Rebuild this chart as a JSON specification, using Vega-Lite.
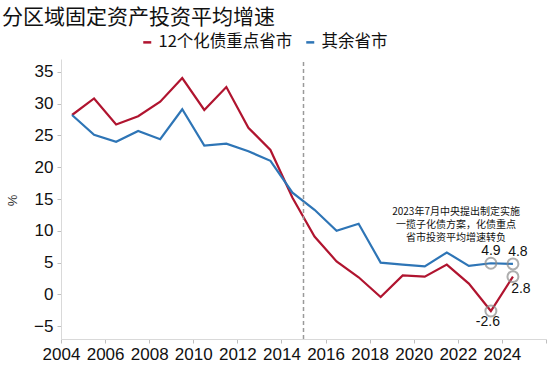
{
  "$schema": "https://vega.github.io/schema/vega-lite/v6.json",
  "width": 485,
  "height": 280,
  "autosize": {"type": "none"},
  "padding": {"left": 61, "top": 59, "right": 4, "bottom": 27},
  "background": "white",
  "config": {
    "view": {"stroke": null},
    "font": "Liberation Sans",
    "axis": {"labelOverlap": false, "labelFlush": false, "grid": false},
    "axisY": {"labelOverlap": false}
  },
  "title": {
    "text": "分区域固定资产投资平均增速",
    "font": "Noto Sans CJK SC",
    "fontSize": 21,
    "fontWeight": "normal",
    "color": "#111111",
    "anchor": "start",
    "frame": "group",
    "dx": -59,
    "offset": 6
  },
  "datasets": {
    "series": [
      {"year": 2004.5, "group": "12个化债重点省市", "value": 28.2},
      {"year": 2005.5, "group": "12个化债重点省市", "value": 30.8},
      {"year": 2006.5, "group": "12个化债重点省市", "value": 26.7},
      {"year": 2007.5, "group": "12个化债重点省市", "value": 28.0},
      {"year": 2008.5, "group": "12个化债重点省市", "value": 30.3},
      {"year": 2009.5, "group": "12个化债重点省市", "value": 34.0},
      {"year": 2010.5, "group": "12个化债重点省市", "value": 29.0},
      {"year": 2011.5, "group": "12个化债重点省市", "value": 32.6},
      {"year": 2012.5, "group": "12个化债重点省市", "value": 26.2},
      {"year": 2013.5, "group": "12个化债重点省市", "value": 22.7},
      {"year": 2014.5, "group": "12个化债重点省市", "value": 15.2},
      {"year": 2015.5, "group": "12个化债重点省市", "value": 9.1},
      {"year": 2016.5, "group": "12个化债重点省市", "value": 5.2},
      {"year": 2017.5, "group": "12个化债重点省市", "value": 2.7},
      {"year": 2018.5, "group": "12个化债重点省市", "value": -0.4},
      {"year": 2019.5, "group": "12个化债重点省市", "value": 3.0},
      {"year": 2020.5, "group": "12个化债重点省市", "value": 2.8},
      {"year": 2021.5, "group": "12个化债重点省市", "value": 4.7},
      {"year": 2022.5, "group": "12个化债重点省市", "value": 1.7},
      {"year": 2023.5, "group": "12个化债重点省市", "value": -2.6},
      {"year": 2024.5, "group": "12个化债重点省市", "value": 2.8},
      {"year": 2004.5, "group": "其余省市", "value": 28.2},
      {"year": 2005.5, "group": "其余省市", "value": 25.1},
      {"year": 2006.5, "group": "其余省市", "value": 24.0},
      {"year": 2007.5, "group": "其余省市", "value": 25.7},
      {"year": 2008.5, "group": "其余省市", "value": 24.4},
      {"year": 2009.5, "group": "其余省市", "value": 29.1},
      {"year": 2010.5, "group": "其余省市", "value": 23.4},
      {"year": 2011.5, "group": "其余省市", "value": 23.7},
      {"year": 2012.5, "group": "其余省市", "value": 22.5},
      {"year": 2013.5, "group": "其余省市", "value": 21.0},
      {"year": 2014.5, "group": "其余省市", "value": 16.0},
      {"year": 2015.5, "group": "其余省市", "value": 13.3},
      {"year": 2016.5, "group": "其余省市", "value": 10.0},
      {"year": 2017.5, "group": "其余省市", "value": 11.1},
      {"year": 2018.5, "group": "其余省市", "value": 5.0},
      {"year": 2019.5, "group": "其余省市", "value": 4.7},
      {"year": 2020.5, "group": "其余省市", "value": 4.4},
      {"year": 2021.5, "group": "其余省市", "value": 6.6},
      {"year": 2022.5, "group": "其余省市", "value": 4.5},
      {"year": 2023.5, "group": "其余省市", "value": 4.9},
      {"year": 2024.5, "group": "其余省市", "value": 4.8}
    ],
    "marks": [
      {"year": 2023.5, "value": 4.9, "label": "4.9"},
      {"year": 2024.5, "value": 4.8, "label": "4.8"},
      {"year": 2024.5, "value": 2.8, "label": "2.8"},
      {"year": 2023.5, "value": -2.6, "label": "-2.6"}
    ]
  },
  "encoding": {
    "x": {
      "field": "year",
      "type": "quantitative",
      "scale": {"domain": [2004, 2026], "nice": false, "zero": false},
      "axis": {
        "title": null,
        "values": [2004, 2006, 2008, 2010, 2012, 2014, 2016, 2018, 2020, 2022, 2024, 2026],
        "labelExpr": "datum.value == 2026 ? '' : datum.value",
        "labelOverlap": false,
        "labelFlush": false,
        "labelFontSize": 17,
        "labelColor": "#111111",
        "labelFont": "Liberation Sans",
        "domainColor": "#d9d9d9",
        "tickColor": "#bfbfbf",
        "tickSize": 4,
        "labelPadding": 3,
        "grid": false
      }
    },
    "y": {
      "field": "value",
      "type": "quantitative",
      "scale": {"domain": [-7, 37], "nice": false, "zero": false},
      "axis": {
        "title": "%",
        "titleFontSize": 13,
        "titleFontWeight": "normal",
        "titleColor": "#333333",
        "titleX": -49,
        "titleY": 141,
        "titleAngle": 270,
        "titleAlign": "center",
        "titleBaseline": "middle",
        "values": [-5, 0, 5, 10, 15, 20, 25, 30, 35],
        "labelOverlap": false,
        "labelFlush": false,
        "labelFontSize": 17,
        "labelColor": "#111111",
        "labelFont": "Liberation Sans",
        "domainColor": "#d9d9d9",
        "tickColor": "#bfbfbf",
        "tickSize": 4,
        "labelPadding": 4,
        "grid": false
      }
    }
  },
  "layer": [
    {
      "data": {"name": "series"},
      "mark": {"type": "line", "strokeWidth": 2.2},
      "encoding": {
        "color": {
          "field": "group",
          "type": "nominal",
          "scale": {"domain": ["12个化债重点省市", "其余省市"], "range": ["#B0142F", "#2E75B6"]},
          "legend": {
            "title": null,
            "orient": "none",
            "direction": "horizontal",
            "legendX": 78,
            "legendY": -25,
            "symbolType": "stroke",
            "symbolSize": 64,
            "symbolStrokeWidth": 2.5,
            "labelFont": "Noto Sans CJK SC",
            "labelFontSize": 16.5,
            "labelColor": "#111111",
            "labelOffset": 3,
            "columnPadding": 8
          }
        }
      }
    },
    {
      "data": {"values": [{"year": 2015, "value": -7, "value2": 37}]},
      "mark": {"type": "rule", "strokeDash": [4, 3], "color": "#9a9a9a", "strokeWidth": 1.5},
      "encoding": {
        "y2": {"field": "value2"}
      }
    },
    {
      "data": {"name": "marks"},
      "mark": {"type": "point", "filled": false, "stroke": "#8c8c8c", "strokeWidth": 2, "size": 120},
      "encoding": {}
    },
    {
      "data": {"name": "marks"},
      "transform": [{"filter": "datum.label == '4.9'"}],
      "mark": {"type": "text", "font": "Liberation Sans", "fontSize": 14, "color": "#111111", "dx": 0, "dy": -12},
      "encoding": {"text": {"field": "label"}}
    },
    {
      "data": {"name": "marks"},
      "transform": [{"filter": "datum.label == '4.8'"}],
      "mark": {"type": "text", "font": "Liberation Sans", "fontSize": 14, "color": "#111111", "dx": 5, "dy": -12},
      "encoding": {"text": {"field": "label"}}
    },
    {
      "data": {"name": "marks"},
      "transform": [{"filter": "datum.label == '2.8'"}],
      "mark": {"type": "text", "font": "Liberation Sans", "fontSize": 14, "color": "#111111", "dx": 8, "dy": 12},
      "encoding": {"text": {"field": "label"}}
    },
    {
      "data": {"name": "marks"},
      "transform": [{"filter": "datum.label == '-2.6'"}],
      "mark": {"type": "text", "font": "Liberation Sans", "fontSize": 14, "color": "#111111", "dx": -3, "dy": 11},
      "encoding": {"text": {"field": "label"}}
    },
    {
      "data": {"values": [{"year": 2021.92, "value": 13.0, "note": ["2023年7月中央提出制定实施", "一揽子化债方案，化债重点", "省市投资平均增速转负"]}]},
      "mark": {"type": "text", "font": "Noto Sans CJK SC", "fontSize": 10, "lineHeight": 13, "color": "#111111", "align": "center", "baseline": "middle"},
      "encoding": {"text": {"field": "note"}}
    }
  ]
}
